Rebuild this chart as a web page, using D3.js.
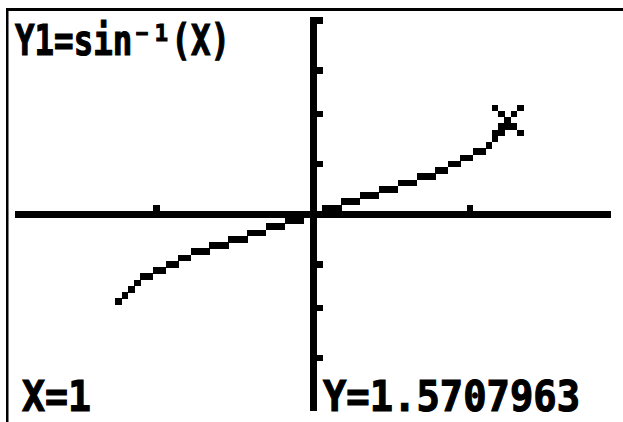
<!DOCTYPE html>
<html>
<head>
<meta charset="utf-8">
<script src="https://cdn.jsdelivr.net/npm/d3@7"></script>
<style>
  body { margin: 0; background: white; }
</style>
</head>
<body>
<div id="container"></div>
<script>
let w = 623;
let h = 422;

// WINDOW (as set on the calculator)
let xWindow = [-1.5, 1.5];
let yWindow = [-3.1416, 3.1416];
let xTicks = [-0.7854, 0.7854];
let yTicks = [-2.3562, -1.5708, -0.7854, 0.7854, 1.5708, 2.3562, 3.1416];

// Y1 = sin-1(X), one value per plotted column
let curveX = [-0.9894, -0.9574, -0.9255, -0.8936, -0.8617, -0.8298, -0.7979, -0.7660,
  -0.7340, -0.7021, -0.6702, -0.6383, -0.6064, -0.5745, -0.5426, -0.5106,
  -0.4787, -0.4468, -0.4149, -0.3830, -0.3511, -0.3191, -0.2872, -0.2553,
  -0.2234, -0.1915, -0.1596, -0.1277, -0.0957, -0.0638, -0.0319, 0,
  0.0319, 0.0638, 0.0957, 0.1277, 0.1596, 0.1915, 0.2234, 0.2553,
  0.2872, 0.3191, 0.3511, 0.3830, 0.4149, 0.4468, 0.4787, 0.5106,
  0.5426, 0.5745, 0.6064, 0.6383, 0.6702, 0.7021, 0.7340, 0.7660,
  0.7979, 0.8298, 0.8617, 0.8936, 0.9255, 0.9574, 0.9894];
let curveY = [-1.4252, -1.2787, -1.1826, -1.1055, -1.0385, -0.9790, -0.9234, -0.8727,
  -0.8245, -0.7789, -0.7347, -0.6925, -0.6513, -0.6120, -0.5736, -0.5359,
  -0.4993, -0.4633, -0.4278, -0.3930, -0.3587, -0.3248, -0.2913, -0.2582,
  -0.2253, -0.1927, -0.1603, -0.1280, -0.0959, -0.0638, -0.0319, 0,
  0.0319, 0.0638, 0.0959, 0.1280, 0.1603, 0.1927, 0.2253, 0.2582,
  0.2913, 0.3248, 0.3587, 0.3930, 0.4278, 0.4633, 0.4993, 0.5359,
  0.5736, 0.6120, 0.6513, 0.6925, 0.7347, 0.7789, 0.8245, 0.8727,
  0.9234, 0.9790, 1.0385, 1.1055, 1.1826, 1.2787, 1.4252];

// trace cursor
let traceX = 1;
let traceY = 1.5707963;

// TEXT
let labelEq = "Y1=sin\u207B\u00B9(X)";
let labelX = "X=1";
let labelY = "Y=1.5707963";

// SVG
let viz = d3.select("#container").append("svg")
    .attr("width", w)
    .attr("height", h)
    .style("display", "block")
    .style("background-color", "white")
;

// screen bezel edge
viz.append("rect").attr("x", 6).attr("y", 8).attr("width", w - 6).attr("height", 3).attr("fill", "black");
viz.append("rect").attr("x", 6).attr("y", 8).attr("width", 2.5).attr("height", h - 8).attr("fill", "black");

// SCALES: data -> calculator pixel (95 x 63), pixel -> page
let colScale = d3.scaleLinear().domain(xWindow).range([0, 94]);
let rowScale = d3.scaleLinear().domain([yWindow[1], yWindow[0]]).range([0, 62]);
let pageX = d3.scaleLinear().domain([0, 95]).range([15, 611]);
let pageY = d3.scaleLinear().domain([0, 63]).range([17, 411]);

function snap(v) { return Math.ceil(v - 0.5 - 1e-9); }
function col(x) { return snap(colScale(x)); }
function row(y) { return snap(rowScale(y)); }

let pw = pageX(1) - pageX(0);
let ph = pageY(1) - pageY(0);

let pixels = viz.append("g").attr("shape-rendering", "crispEdges");

function plot(list) {
  pixels.selectAll(null).data(list).enter()
    .append("rect")
      .attr("x", function(d) { return pageX(d[0]); })
      .attr("y", function(d) { return pageY(d[1]); })
      .attr("width", pw + 0.4)
      .attr("height", ph + 0.4)
      .attr("fill", "black")
  ;
}

// AXES
let axisRow = row(0);
let axisCol = col(0);
plot(d3.range(0, 95).map(function(c) { return [c, axisRow]; }));
plot(d3.range(0, 63).map(function(r) { return [axisCol, r]; }));
plot(xTicks.map(function(t) { return [col(t), axisRow - 1]; }));
plot(yTicks.map(function(t) { return [axisCol + 1, row(t)]; }));

// CURVE (connected mode)
let curvePts = curveX.map(function(x, i) { return [col(x), row(curveY[i])]; });
let curvePixels = [];
curvePts.forEach(function(p, i) {
  if (i == 0) { curvePixels.push(p); return; }
  let q = curvePts[i - 1];
  let steps = Math.max(Math.abs(p[0] - q[0]), Math.abs(p[1] - q[1]));
  for (let s = 1; s <= steps; s++) {
    curvePixels.push([Math.round(q[0] + (p[0] - q[0]) * s / steps), Math.round(q[1] + (p[1] - q[1]) * s / steps)]);
  }
});
plot(curvePixels);

// TRACE CURSOR (X shape)
let tc = col(traceX);
let tr = row(traceY);
let cursor = [[-2, -2], [2, -2], [-1, -1], [1, -1], [0, 0], [-1, 1], [1, 1], [-2, 2], [2, 2]];
plot(cursor.map(function(d) { return [tc + d[0], tr + d[1]]; }));

// LABELS
function label(txt, x0, x1, base) {
  viz.append("text")
      .attr("x", x0)
      .attr("y", base)
      .attr("textLength", x1 - x0)
      .attr("lengthAdjust", "spacingAndGlyphs")
      .style("font-family", "'DejaVu Sans Mono', monospace")
      .style("font-weight", "bold")
      .style("font-size", "42px")
      .attr("fill", "black")
      .attr("stroke", "black")
      .attr("stroke-width", 1.2)
      .text(txt)
  ;
}
label(labelEq, 15, 230, 55);
label(labelX, 22, 91, 411);
label(labelY, 323, 580, 411);
</script>
</body>
</html>
